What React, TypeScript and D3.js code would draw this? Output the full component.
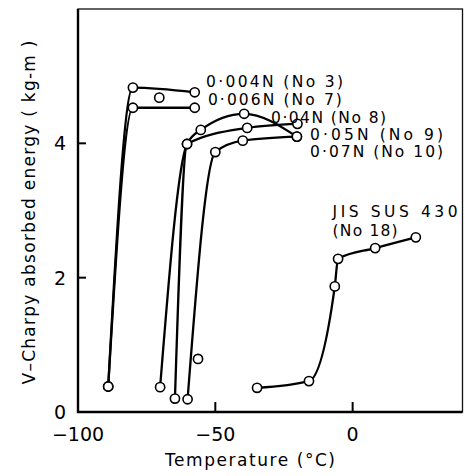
import React, { Component } from 'react';
import * as d3 from 'd3';

const width = 465;
const height = 476;
const margin = { top: 9, bottom: 64, left: 78, right: 2 };

const xTicks = [-100, -50, 0];
const yTicks = [0, 2, 4];

// temperature (deg C), absorbed energy (kg-m)
const n004 = [[-89, 0.38], [-80, 4.83], [-57.5, 4.76]];
const n006 = [[-89, 0.38], [-80, 4.53], [-57.5, 4.53]];
const n04 = [[-70.1, 0.37], [-60.3, 3.99], [-55.3, 4.2], [-39.5, 4.44], [-20.3, 4.1]];
const n05 = [[-64.7, 0.2], [-60.3, 3.99], [-38.4, 4.23], [-20.1, 4.29]];
const n07 = [[-60.1, 0.19], [-50, 3.87], [-40, 4.04], [-20.3, 4.1]];
const sus430 = [[-34.8, 0.36], [-15.9, 0.46], [-6.5, 1.87], [-5.3, 2.28], [8.2, 2.44], [23, 2.6]];
const loose = [[-70.4, 4.68], [-56.3, 0.79]];

const series = [n004, n006, n04, n05, n07, sus430];

// label text, baseline anchor in data units, text length in px
const labels = [
  { lines: ['0·004N (No 3)'], at: [-53.4, 4.84], len: [137] },
  { lines: ['0·006N (No 7)'], at: [-52.7, 4.57], len: [134] },
  { lines: ['0·04N (No 8)'], at: [-29.7, 4.3], len: [115] },
  { lines: ['0·05N (No 9)'], at: [-15.5, 4.05], len: [133] },
  { lines: ['0·07N (No 10)'], at: [-15.5, 3.8], len: [133] },
  { lines: ['JIS SUS 430', '(No 18)'], at: [-7.3, 2.91], len: [125, 65] },
];

const font = '"DejaVu Sans", sans-serif';

class App extends Component {
  root: SVGSVGElement | null = null;

  componentDidMount() {
    this.draw();
  }

  draw() {
    const svg = d3.select(this.root);
    svg.selectAll('*').remove();

    const x = d3.scaleLinear().domain([-100, 40]).range([margin.left, width - margin.right - 0.5]);
    const y = d3.scaleLinear().domain([0, 6]).range([height - margin.bottom, margin.top]);

    const g = svg.append('g');

    // frame
    g.append('rect')
      .attr('x', x(-100))
      .attr('y', y(6))
      .attr('width', x(40) - x(-100))
      .attr('height', y(0) - y(6))
      .attr('fill', 'none')
      .attr('stroke', '#111')
      .attr('stroke-width', 1.3);
    g.append('path')
      .attr('d', `M${x(-100)},${y(6)}V${y(0)}H${x(40)}`)
      .attr('fill', 'none')
      .attr('stroke', '#000')
      .attr('stroke-width', 2.4);

    // inward ticks
    g.selectAll('.xt')
      .data(xTicks.filter(d => d > -100))
      .enter()
      .append('line')
      .attr('x1', d => x(d))
      .attr('x2', d => x(d))
      .attr('y1', y(0))
      .attr('y2', y(0) - 10)
      .attr('stroke', '#000')
      .attr('stroke-width', 2);
    g.selectAll('.yt')
      .data(yTicks.filter(d => d > 0))
      .enter()
      .append('line')
      .attr('x1', x(-100))
      .attr('x2', x(-100) + 8)
      .attr('y1', d => y(d))
      .attr('y2', d => y(d))
      .attr('stroke', '#000')
      .attr('stroke-width', 2);

    g.selectAll('.xl')
      .data(xTicks)
      .enter()
      .append('text')
      .attr('x', d => x(d))
      .attr('y', y(0) + 29)
      .attr('text-anchor', 'middle')
      .style('font', `19px ${font}`)
      .text(d => (d < 0 ? '\u2212' + Math.abs(d) : d));
    g.selectAll('.yl')
      .data(yTicks)
      .enter()
      .append('text')
      .attr('x', x(-100) - 12)
      .attr('y', d => y(d) + 7)
      .attr('text-anchor', 'end')
      .style('font', `19px ${font}`)
      .text(d => d);

    g.append('text')
      .attr('x', 250)
      .attr('y', height - 10)
      .attr('text-anchor', 'middle')
      .attr('textLength', 170)
      .style('font', `17px ${font}`)
      .text('Temperature (°C)');
    g.append('text')
      .attr('transform', `translate(35,${(y(0) + y(6)) / 2 + 2}) rotate(-90)`)
      .attr('text-anchor', 'middle')
      .attr('textLength', 344)
      .style('font', `17px ${font}`)
      .text('V\u2013Charpy absorbed energy ( kg-m )');

    const line = d3
      .line()
      .x(d => x(d[0]))
      .y(d => y(d[1]))
      .curve(d3.curveMonotoneX);

    g.selectAll('.curve')
      .data(series)
      .enter()
      .append('path')
      .attr('d', d => line(d))
      .attr('fill', 'none')
      .attr('stroke', '#000')
      .attr('stroke-width', 2.3)
      .attr('stroke-linejoin', 'round');

    const pts = series.flat().concat(loose);
    g.selectAll('.pt')
      .data(pts)
      .enter()
      .append('circle')
      .attr('cx', d => x(d[0]))
      .attr('cy', d => y(d[1]))
      .attr('r', 4.6)
      .attr('fill', '#fff')
      .attr('stroke', '#000')
      .attr('stroke-width', 1.6);

    labels.forEach(l => {
      l.lines.forEach((t, i) => {
        g.append('text')
          .attr('x', x(l.at[0]))
          .attr('y', y(l.at[1]) + i * 19.5)
          .attr('textLength', l.len[i])
          .style('font', `15.5px ${font}`)
          .text(t);
      });
    });
  }

  render() {
    return (
      <svg
        width={width}
        height={height}
        style={{ position: 'absolute', left: 0, top: 0, background: '#fff' }}
        ref={root => (this.root = root)}
      />
    );
  }
}

export default App;
